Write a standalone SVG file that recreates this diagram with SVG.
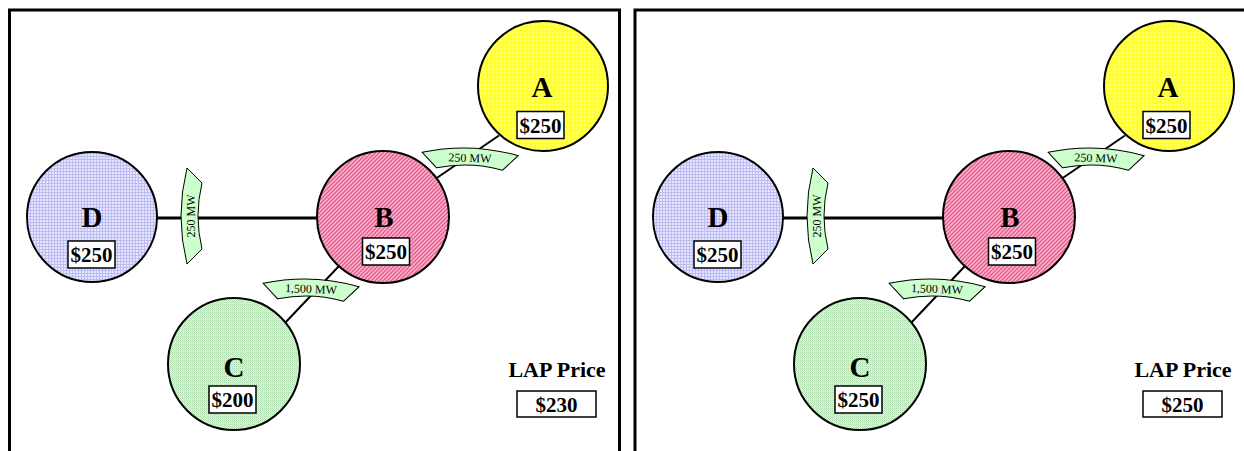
<svg xmlns="http://www.w3.org/2000/svg" width="1244" height="451" viewBox="0 0 1244 451">
  <defs>
    <!-- textured fills for the bus circles -->
    <pattern id="texA" width="4" height="4" patternUnits="userSpaceOnUse">
      <rect width="4" height="4" fill="#ffff33"/>
      <rect width="2" height="2" fill="#ffff70"/>
    </pattern>
    <pattern id="texB" width="4" height="4" patternUnits="userSpaceOnUse">
      <rect width="4" height="4" fill="#f9b6cf"/>
      <path d="M-1,1 L1,-1 M0,4 L4,0 M3,5 L5,3" stroke="#e8588c" stroke-width="1.3"/>
    </pattern>
    <pattern id="texC" width="2" height="2" patternUnits="userSpaceOnUse">
      <rect width="2" height="2" fill="#e2f4e2"/>
      <rect width="1" height="1" fill="#acd9ac"/>
      <rect x="1" y="1" width="1" height="1" fill="#c6e7c6"/>
    </pattern>
    <pattern id="texD" width="3" height="3" patternUnits="userSpaceOnUse">
      <rect width="3" height="3" fill="#e6e6fd"/>
      <path d="M0,0.5 H3 M0.5,0 V3" stroke="#bcbcf2" stroke-width="1"/>
    </pattern>
    <!-- arched flow tag, centred on the origin -->
    <path id="tag" d="M-48,-4 Q0,-16 48,-4 L33,11 Q0,3 -33,11 Z"/>
  </defs>
  <style>
    .panel { fill: #ffffff; stroke: #000000; stroke-width: 3; }
    .bus { stroke: #000000; stroke-width: 2; }
    .line { stroke: #000000; stroke-width: 2; fill: none; }
    .line3 { stroke: #000000; stroke-width: 3; fill: none; }
    .flow { fill: #ccffcc; stroke: #000000; stroke-width: 1; }
    .flowtxt { font-family: "Liberation Serif", "Times New Roman", serif; font-size: 12px; text-anchor: middle; fill: #000000; }
    .name { font-family: "Liberation Serif", "Times New Roman", serif; font-size: 29px; font-weight: bold; text-anchor: middle; fill: #000000; }
    .badge { fill: #ffffff; stroke: #000000; stroke-width: 1.5; }
    .price { font-family: "Liberation Serif", "Times New Roman", serif; font-size: 21px; font-weight: bold; text-anchor: middle; fill: #000000; }
    .lap { font-family: "Liberation Serif", "Times New Roman", serif; font-size: 22px; font-weight: bold; text-anchor: middle; fill: #000000; }
  </style>

  <!-- ============ left case ============ -->
  <g id="panel-left">
    <rect class="panel" x="9.5" y="10" width="610" height="470"/>
  </g>

  <g id="connectors-left">
    <line class="line3" x1="157" y1="218" x2="318" y2="218"/>
    <line class="line" x1="436" y1="178.5" x2="499" y2="135.5"/>
    <line class="line" x1="339" y1="266" x2="284" y2="324"/>
    <g transform="translate(191,216) rotate(-90)">
      <use href="#tag" class="flow"/>
      <text class="flowtxt" x="0" y="4">250 MW</text>
    </g>
    <g transform="translate(470,158) rotate(2)">
      <use href="#tag" class="flow"/>
      <text class="flowtxt" x="0" y="4">250 MW</text>
    </g>
    <g transform="translate(311,289) rotate(2)">
      <use href="#tag" class="flow"/>
      <text class="flowtxt" x="0" y="4">1,500 MW</text>
    </g>
  </g>

  <g id="node-A-left">
    <circle class="bus" cx="543" cy="86" r="65" fill="url(#texA)"/>
    <text class="name" x="542" y="97">A</text>
    <rect class="badge" x="517" y="111.5" width="47" height="27"/>
    <text class="price" x="540.5" y="133">$250</text>
  </g>
  <g id="node-B-left">
    <circle class="bus" cx="383" cy="217" r="66" fill="url(#texB)"/>
    <text class="name" x="384" y="227">B</text>
    <rect class="badge" x="362.5" y="238" width="47" height="27"/>
    <text class="price" x="386" y="259">$250</text>
  </g>
  <g id="node-C-left">
    <circle class="bus" cx="234" cy="364" r="66" fill="url(#texC)"/>
    <text class="name" x="234" y="377">C</text>
    <rect class="badge" x="209" y="386" width="47" height="27"/>
    <text class="price" x="232.5" y="407">$200</text>
  </g>
  <g id="node-D-left">
    <circle class="bus" cx="92" cy="217" r="65" fill="url(#texD)"/>
    <text class="name" x="92" y="227">D</text>
    <rect class="badge" x="68" y="241" width="47" height="27"/>
    <text class="price" x="91.5" y="262">$250</text>
  </g>
  <g id="lap-left">
    <text class="lap" x="557" y="377">LAP Price</text>
    <rect class="badge" x="517" y="391" width="79" height="26"/>
    <text class="price" x="556.5" y="412">$230</text>
  </g>

  <!-- ============ right case ============ -->
  <g id="panel-right">
    <rect class="panel" x="635" y="10" width="620" height="470"/>
  </g>

  <g id="connectors-right" transform="translate(626,0)">
    <line class="line3" x1="157" y1="218" x2="318" y2="218"/>
    <line class="line" x1="436" y1="178.5" x2="499" y2="135.5"/>
    <line class="line" x1="339" y1="266" x2="284" y2="324"/>
    <g transform="translate(191,216) rotate(-90)">
      <use href="#tag" class="flow"/>
      <text class="flowtxt" x="0" y="4">250 MW</text>
    </g>
    <g transform="translate(470,158) rotate(2)">
      <use href="#tag" class="flow"/>
      <text class="flowtxt" x="0" y="4">250 MW</text>
    </g>
    <g transform="translate(311,289) rotate(2)">
      <use href="#tag" class="flow"/>
      <text class="flowtxt" x="0" y="4">1,500 MW</text>
    </g>
  </g>

  <g id="node-A-right" transform="translate(626,0)">
    <circle class="bus" cx="543" cy="86" r="65" fill="url(#texA)"/>
    <text class="name" x="542" y="97">A</text>
    <rect class="badge" x="517" y="111.5" width="47" height="27"/>
    <text class="price" x="540.5" y="133">$250</text>
  </g>
  <g id="node-B-right" transform="translate(626,0)">
    <circle class="bus" cx="383" cy="217" r="66" fill="url(#texB)"/>
    <text class="name" x="384" y="227">B</text>
    <rect class="badge" x="362.5" y="238" width="47" height="27"/>
    <text class="price" x="386" y="259">$250</text>
  </g>
  <g id="node-C-right" transform="translate(626,0)">
    <circle class="bus" cx="234" cy="364" r="66" fill="url(#texC)"/>
    <text class="name" x="234" y="377">C</text>
    <rect class="badge" x="209" y="386" width="47" height="27"/>
    <text class="price" x="232.5" y="407">$250</text>
  </g>
  <g id="node-D-right" transform="translate(626,0)">
    <circle class="bus" cx="92" cy="217" r="65" fill="url(#texD)"/>
    <text class="name" x="92" y="227">D</text>
    <rect class="badge" x="68" y="241" width="47" height="27"/>
    <text class="price" x="91.5" y="262">$250</text>
  </g>
  <g id="lap-right" transform="translate(626,0)">
    <text class="lap" x="557" y="377">LAP Price</text>
    <rect class="badge" x="517" y="391" width="79" height="26"/>
    <text class="price" x="556.5" y="412">$250</text>
  </g>
</svg>
